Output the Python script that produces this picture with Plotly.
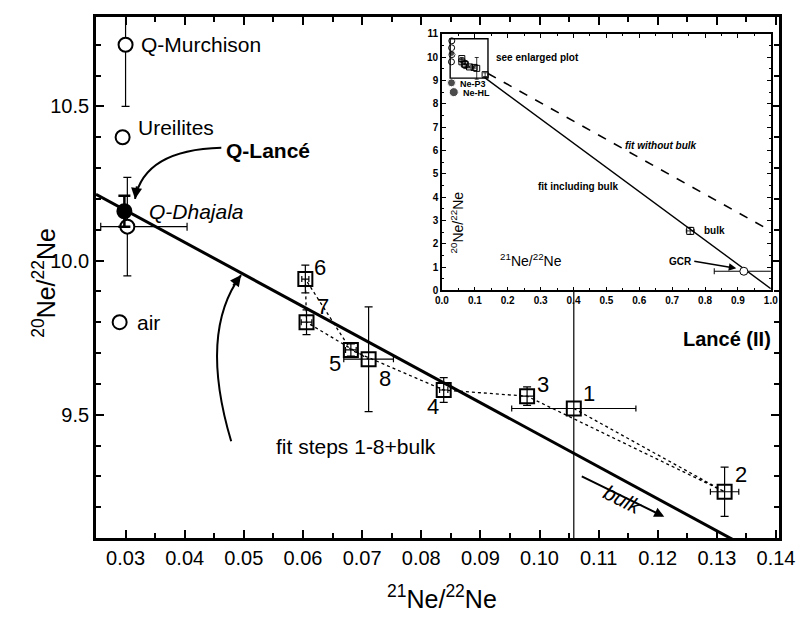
import plotly.graph_objects as go

# ---------------------------------------------------------------
# Neon three-isotope plot, Lancé (II): stepwise release vs. end-members
# ---------------------------------------------------------------

# end-member compositions (21Ne/22Ne, 20Ne/22Ne)
ref_names = ["Q-Murchison", "Ureilites", "Q-Dhajala", "air"]
ref_x = [0.0300, 0.0295, 0.0303, 0.0290]
ref_y = [10.70, 10.40, 10.11, 9.80]
ref_ey = [0.20, 0.0, 0.16, 0.0]
ref_ex_plus = [0.0, 0.0, 0.0101, 0.0]
ref_ex_minus = [0.0, 0.0, 0.0045, 0.0]

lance_x = [0.0298]
lance_y = [10.16]
lance_ey = [0.05]

# temperature steps of Lancé (II)
step_labels = ["1", "2", "3", "4", "5", "6", "7", "8"]
step_x = [0.1058, 0.1313, 0.0979, 0.0838, 0.0681, 0.0604, 0.0606, 0.0711]
step_y = [9.52, 9.25, 9.56, 9.58, 9.71, 9.94, 9.80, 9.68]
step_ex = [0.0105, 0.0024, 0.0012, 0.0007, 0.0009, 0.0006, 0.0009, 0.0042]
step_ey = [0.465, 0.08, 0.03, 0.04, 0.02, 0.045, 0.04, 0.17]

# linear fits: 20Ne/22Ne = a + b * 21Ne/22Ne
fit_bulk_a, fit_bulk_b = 10.475, -10.40      # steps 1-8 + bulk
fit_nobulk_a, fit_nobulk_b = 10.40, -7.85    # steps only

# additional components shown in the overview panel
comp_names = ["Ne-P3", "Ne-HL"]
comp_x = [0.029, 0.036]
comp_y = [8.90, 8.50]
bulk_x, bulk_y, bulk_ex, bulk_ey = [0.755], [2.55], [0.012], [0.15]
gcr_x, gcr_y, gcr_ex = [0.918], [0.82], [0.09]

# axis ranges
main_xr = [0.025, 0.1405]
main_yr = [9.10, 10.79]
ins_xr = [0.0, 1.0]
ins_yr = [0.0, 11.0]

FONT = "Liberation Sans, Arial, Helvetica, sans-serif"
BLACK = "black"

fig = go.Figure()

# ---------------- main panel ----------------
def fit_line(a, b, x0, x1):
    return [x0, x1], [a + b * x0, a + b * x1]

fx, fy = fit_line(fit_bulk_a, fit_bulk_b, main_xr[0], 0.15)
fig.add_trace(go.Scatter(x=fx, y=fy, mode="lines",
                         line=dict(color=BLACK, width=3), showlegend=False,
                         hoverinfo="skip"))

# dotted path through the steps in release order
fig.add_trace(go.Scatter(x=step_x, y=step_y, mode="lines",
                         line=dict(color=BLACK, width=1.3, dash="dot"),
                         showlegend=False, hoverinfo="skip"))

# steps with error bars
fig.add_trace(go.Scatter(
    x=step_x, y=step_y, mode="markers",
    marker=dict(symbol="square-open", size=14, color=BLACK, line=dict(width=2)),
    error_x=dict(type="data", array=step_ex, color=BLACK, thickness=1.2, width=3),
    error_y=dict(type="data", array=step_ey, color=BLACK, thickness=1.2, width=4),
    showlegend=False))

# end-members
fig.add_trace(go.Scatter(
    x=ref_x, y=ref_y, mode="markers",
    marker=dict(symbol="circle", size=14, color="white",
                line=dict(color=BLACK, width=2)),
    error_y=dict(type="data", array=ref_ey, color=BLACK, thickness=1.2, width=4),
    error_x=dict(type="data", symmetric=False, array=ref_ex_plus,
                 arrayminus=ref_ex_minus, color=BLACK, thickness=1.2, width=4),
    showlegend=False))

fig.add_trace(go.Scatter(
    x=lance_x, y=lance_y, mode="markers",
    marker=dict(symbol="circle", size=14, color=BLACK,
                line=dict(color=BLACK, width=2)),
    error_y=dict(type="data", array=lance_ey, color=BLACK, thickness=2.5, width=6),
    showlegend=False))

# ---------------- overview panel ----------------
ix, iy = fit_line(fit_bulk_a, fit_bulk_b, 0.13, 1.0)
fig.add_trace(go.Scatter(x=ix, y=iy, mode="lines", xaxis="x2", yaxis="y2",
                         line=dict(color=BLACK, width=1.4), showlegend=False,
                         hoverinfo="skip"))
ix, iy = fit_line(fit_nobulk_a, fit_nobulk_b, 0.14, 1.0)
fig.add_trace(go.Scatter(x=ix, y=iy, mode="lines", xaxis="x2", yaxis="y2",
                         line=dict(color=BLACK, width=1.6, dash="dash"),
                         showlegend=False, hoverinfo="skip"))

fig.add_trace(go.Scatter(
    x=step_x, y=step_y, mode="markers", xaxis="x2", yaxis="y2",
    marker=dict(symbol="square-open", size=6, color=BLACK, line=dict(width=1)),
    error_y=dict(type="data", array=step_ey, color=BLACK, thickness=0.8, width=2),
    showlegend=False))
fig.add_trace(go.Scatter(
    x=ref_x, y=ref_y, mode="markers", xaxis="x2", yaxis="y2",
    marker=dict(symbol="circle", size=6, color="white",
                line=dict(color=BLACK, width=1)),
    showlegend=False))
fig.add_trace(go.Scatter(
    x=lance_x + comp_x, y=lance_y + comp_y, mode="markers", xaxis="x2", yaxis="y2",
    marker=dict(symbol="circle", size=[6, 8, 9], color=BLACK),
    showlegend=False))
fig.add_trace(go.Scatter(
    x=bulk_x, y=bulk_y, mode="markers", xaxis="x2", yaxis="y2",
    marker=dict(symbol="square-open", size=7, color=BLACK, line=dict(width=1)),
    error_x=dict(type="data", array=bulk_ex, color=BLACK, thickness=0.8, width=2),
    error_y=dict(type="data", array=bulk_ey, color=BLACK, thickness=0.8, width=2),
    showlegend=False))
fig.add_trace(go.Scatter(
    x=gcr_x, y=gcr_y, mode="markers", xaxis="x2", yaxis="y2",
    marker=dict(symbol="circle", size=8, color="white",
                line=dict(color=BLACK, width=1)),
    error_x=dict(type="data", array=gcr_ex, color=BLACK, thickness=1, width=3),
    showlegend=False))

# ---------------- axes ----------------
axis_common = dict(showline=True, linecolor=BLACK, mirror="ticks", ticks="inside",
                   tickcolor=BLACK, showgrid=False, zeroline=False)

fig.update_layout(
    width=807, height=621,
    margin=dict(l=96, r=22, t=12, b=83),
    paper_bgcolor="white", plot_bgcolor="white",
    font=dict(family=FONT, color=BLACK),
    xaxis=dict(**axis_common, range=main_xr, dtick=0.01, tick0=0, tickformat=".2f",
               linewidth=2.8, ticklen=8, tickwidth=2,
               minor=dict(dtick=0.005, ticks="inside", ticklen=5, tickwidth=1.5,
                          tickcolor=BLACK),
               tickfont=dict(size=20)),
    yaxis=dict(**axis_common, range=main_yr, dtick=0.5, tick0=0, tickformat=".1f",
               linewidth=2.8, ticklen=8, tickwidth=2,
               minor=dict(dtick=0.1, ticks="inside", ticklen=5, tickwidth=1.5,
                          tickcolor=BLACK),
               tickfont=dict(size=20)),
    xaxis2=dict(**axis_common, domain=[0.5065, 0.988], anchor="y2", range=ins_xr,
                dtick=0.1, tick0=0, tickformat=".1f", linewidth=1.5, ticklen=4,
                tickwidth=1.2,
                minor=dict(dtick=0.05, ticks="inside", ticklen=2.5, tickcolor=BLACK),
                tickfont=dict(size=10, weight="bold")),
    yaxis2=dict(**axis_common, domain=[0.4753, 0.9677], anchor="x2", range=ins_yr,
                dtick=1, tick0=0, tickformat="d", linewidth=1.5, ticklen=4,
                tickwidth=1.2,
                minor=dict(dtick=0.5, ticks="inside", ticklen=2.5, tickcolor=BLACK),
                tickfont=dict(size=10, weight="bold")),
)

# ---------------- shapes ----------------
shapes = [
    # frame marking the region shown enlarged
    dict(type="rect", xref="x2", yref="y2", x0=main_xr[0], x1=main_xr[1] - 0.0005,
         y0=main_yr[0], y1=main_yr[1], line=dict(color=BLACK, width=1.4)),
    # curved pointer to Q-Lancé
    dict(type="path", xref="x", yref="y",
         path="M 0.04619,10.3655 Q 0.03317,10.3590 0.03160,10.2000",
         line=dict(color=BLACK, width=2)),
    # curved pointer to the fit line
    dict(type="path", xref="x", yref="y",
         path="M 0.04786,9.414 Q 0.04235,9.7687 0.04953,9.953",
         line=dict(color=BLACK, width=2)),
]
fig.update_layout(shapes=shapes)

# ---------------- annotations ----------------
ann = []

def txt(x, y, text, size=20, xanchor="left", ref=("x", "y"), **kw):
    ann.append(dict(x=x, y=y, xref=ref[0], yref=ref[1], text=text,
                    showarrow=False, xanchor=xanchor, yanchor="middle",
                    font=dict(size=size, family=FONT, color=BLACK), **kw))

# axis titles
txt(0.5065, -0.114, "<sup>21</sup>Ne/<sup>22</sup>Ne", size=25, xanchor="center",
    ref=("paper", "paper"))
txt(-0.076, 0.49, "<sup>20</sup>Ne/<sup>22</sup>Ne", size=25, xanchor="center",
    ref=("paper", "paper"), textangle=-90)

# end-member names
name_pos = {
    "Q-Murchison": (0.0323, 10.70, "Q-Murchison"),
    "Ureilites": (0.0318, 10.43, "Ureilites"),
    "Q-Dhajala": (0.0336, 10.16, "<i>Q-Dhajala</i>"),
    "air": (0.0316, 9.80, "air"),
}
for n in ref_names:
    x, y, t = name_pos[n]
    txt(x, y, t, size=21)
txt(0.0466, 10.357, "<b>Q-Lancé</b>", size=21)

# step numbers (pixel offsets from each square)
step_offsets = {"1": (15, 15), "2": (16, 17), "3": (16, 12), "4": (-11, -16),
                "5": (-16, -14), "6": (15, 12), "7": (16, 16), "8": (16, -19)}
for lab, x, y in zip(step_labels, step_x, step_y):
    dx, dy = step_offsets[lab]
    txt(x, y, lab, size=22, xanchor="center", xshift=dx, yshift=dy)

txt(0.0689, 9.398, "fit steps 1-8+bulk", size=21, xanchor="center")
txt(0.1395, 9.746, "<b>Lancé (II)</b>", size=20, xanchor="right")
txt(0.1141, 9.225, "<i>bulk</i>", size=21, xanchor="center", textangle=27)

# arrowheads
ann.append(dict(x=0.03160, y=10.2000, xref="x", yref="y", ax=2, ay=-14,
                showarrow=True, arrowhead=2, arrowsize=1.1, arrowwidth=2,
                arrowcolor=BLACK, text=""))
ann.append(dict(x=0.04953, y=9.953, xref="x", yref="y", ax=-9, ay=12,
                showarrow=True, arrowhead=2, arrowsize=1.1, arrowwidth=2,
                arrowcolor=BLACK, text=""))
ann.append(dict(x=0.1211, y=9.169, xref="x", yref="y", ax=-84, ay=-41,
                showarrow=True, arrowhead=2, arrowsize=1.0, arrowwidth=2,
                arrowcolor=BLACK, text=""))

# overview panel labels
R2 = ("x2", "y2")
txt(0.157, 10.0, "<b>see enlarged plot</b>", size=10, ref=R2)
txt(0.048, 8.85, "<b>Ne-P3</b>", size=9, ref=R2)
txt(0.058, 8.45, "<b>Ne-HL</b>", size=9, ref=R2)
txt(0.667, 6.2, "<b><i>fit without bulk</i></b>", size=10, xanchor="center", ref=R2)
txt(0.415, 4.45, "<b>fit including bulk</b>", size=10, xanchor="center", ref=R2)
txt(0.79, 2.55, "<b>bulk</b>", size=10, ref=R2)
txt(0.27, 1.32, "<sup>21</sup>Ne/<sup>22</sup>Ne", size=14, xanchor="center", ref=R2)
txt(0.045, 2.9, "<sup>20</sup>Ne/<sup>22</sup>Ne", size=14, xanchor="center",
    ref=R2, textangle=-90)
ann.append(dict(x=0.895, y=0.95, xref="x2", yref="y2", ax=-42, ay=-7,
                showarrow=True, arrowhead=2, arrowsize=1.0, arrowwidth=1.5,
                arrowcolor=BLACK, text="<b>GCR</b>", xanchor="right",
                font=dict(size=10, family=FONT, color=BLACK)))

fig.update_layout(annotations=ann)

fig.write_html("out.html")
